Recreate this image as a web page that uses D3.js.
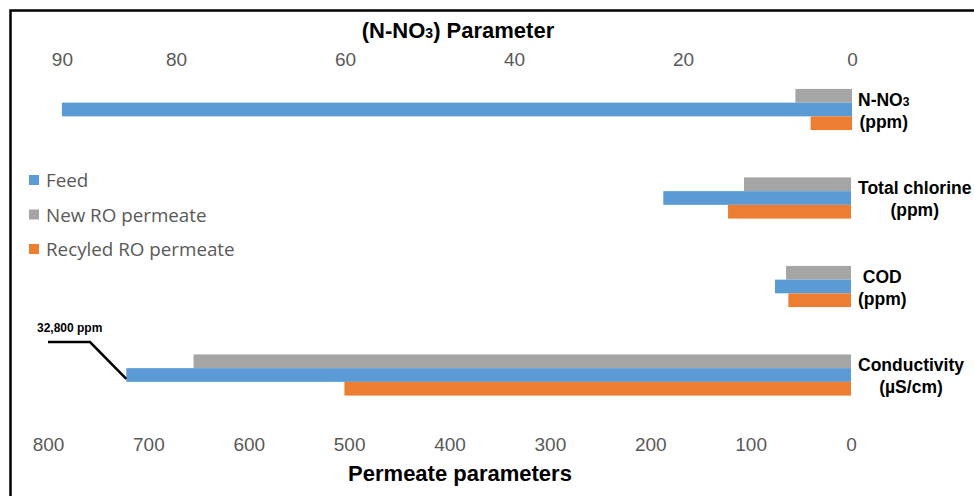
<!DOCTYPE html>
<html>
<head>
<meta charset="utf-8">
<script src="https://cdn.jsdelivr.net/npm/d3@7"></script>
<style>
  html, body { margin: 0; padding: 0; background: #fff; }
  svg { display: block; }
</style>
</head>
<body>
<svg id="chart" width="974" height="496"></svg>
<script>
// ---------------- data ----------------
const categories = ["N-NO3", "Total chlorine", "COD", "Conductivity"];
const categoryLine1 = ["N-NO", "Total chlorine", "COD", "Conductivity"];
const categoryLine2 = ["(ppm)", "(ppm)", "(ppm)", "(\u00B5S/cm)"];
const seriesNames = ["New RO permeate", "Feed", "Recyled RO permeate"]; // top-to-bottom inside each group
const legendOrder = ["Feed", "New RO permeate", "Recyled RO permeate"];
const colors = { "Feed": "#5B9BD5", "New RO permeate": "#A5A5A5", "Recyled RO permeate": "#ED7D31" };
// values: N-NO3 read on the top axis, the others on the bottom axis
const feedValues     = [93.5, 187, 75.7, 722];
const newROValues    = [6.7, 106.6, 64.7, 655];
const recycledValues = [4.9, 122.5, 62.4, 504.7];
const topTickValues  = [93.5, 80, 60, 40, 20, 0];
const topTickLabels  = ["90", "80", "60", "40", "20", "0"];
const bottomTickValues = [800, 700, 600, 500, 400, 300, 200, 100, 0];
const annotationText = "32,800 ppm";

const valuesBySeries = {
  "Feed": feedValues,
  "New RO permeate": newROValues,
  "Recyled RO permeate": recycledValues
};

// ---------------- layout ----------------
const svg = d3.select("#chart");
const W = 974, H = 496;

const xTop = d3.scaleLinear().domain([0, 80]).range([852, 176]);
const xBottom = d3.scaleLinear().domain([0, 800]).range([851, 48]);

const y = d3.scaleBand().domain(categories).range([65.25, 419.25])
  .paddingInner(0.535).paddingOuter(0.2675);
const ySeries = d3.scaleBand().domain(seriesNames).range([0, y.bandwidth()]);

// frame
svg.append("path")
  .attr("d", `M10.5,${H} V10.5 H${W}`)
  .attr("fill", "none").attr("stroke", "#000").attr("stroke-width", 2.5);

// bars
const rows = [];
categories.forEach((c, i) => {
  seriesNames.forEach(s => {
    rows.push({ cat: c, series: s, value: valuesBySeries[s][i], top: i === 0 });
  });
});
svg.append("g").selectAll("rect").data(rows).enter().append("rect")
  .attr("x", d => (d.top ? xTop(d.value) : xBottom(d.value)))
  .attr("width", d => (d.top ? xTop(0) - xTop(d.value) : xBottom(0) - xBottom(d.value)))
  .attr("y", d => y(d.cat) + ySeries(d.series))
  .attr("height", ySeries.bandwidth())
  .attr("fill", d => colors[d.series]);

const tickFont = "'Liberation Sans Narrow','Liberation Sans',Arial,sans-serif";

// top axis (N-NO3)
const topAxis = d3.axisTop(xTop).tickValues(topTickValues)
  .tickFormat((d, i) => topTickLabels[i]).tickSize(0).tickPadding(0);
const gTop = svg.append("g").attr("transform", "translate(0,66)").call(topAxis);
gTop.select(".domain").remove();
gTop.selectAll("text")
  .attr("dy", 0)
  .style("font-family", tickFont)
  .style("font-size", "19px").attr("fill", "#595959");

// bottom axis
const bottomAxis = d3.axisBottom(xBottom).tickValues(bottomTickValues).tickSize(0).tickPadding(0);
const gBot = svg.append("g").attr("transform", "translate(0,451)").call(bottomAxis);
gBot.select(".domain").remove();
gBot.selectAll("text")
  .attr("dy", 0)
  .style("font-family", tickFont)
  .style("font-size", "19px").attr("fill", "#595959");

// titles
const titleTop = svg.append("text")
  .attr("x", 458).attr("y", 38).attr("text-anchor", "middle")
  .style("font-family", "'Liberation Sans',Arial,sans-serif")
  .style("font-weight", "bold").style("font-size", "22px").attr("fill", "#000");
titleTop.append("tspan").text("(N-NO");
titleTop.append("tspan").text("3").style("font-size", "14px");
titleTop.append("tspan").text(") Parameter");

svg.append("text")
  .attr("x", 460).attr("y", 481).attr("text-anchor", "middle")
  .style("font-family", "'Liberation Sans',Arial,sans-serif")
  .style("font-weight", "bold").style("font-size", "22px").attr("fill", "#000")
  .text("Permeate parameters");

// category labels on the right
categories.forEach((c, i) => {
  const cy = y(c) + y.bandwidth() / 2;
  const g = svg.append("g");
  const t1 = g.append("text").attr("y", cy - 4)
    .style("font-family", "'Liberation Sans',Arial,sans-serif")
    .style("font-weight", "bold").style("font-size", "17.5px").attr("fill", "#000");
  t1.append("tspan").text(categoryLine1[i]);
  if (i === 0) t1.append("tspan").text("3").style("font-size", "12px");
  const t2 = g.append("text").attr("y", cy + 18).text(categoryLine2[i])
    .style("font-family", "'Liberation Sans',Arial,sans-serif")
    .style("font-weight", "bold").style("font-size", "17.5px").attr("fill", "#000");
  const w1 = t1.node().getComputedTextLength();
  const w2 = t2.node().getComputedTextLength();
  const mw = Math.max(w1, w2);
  const x0 = 858;
  t1.attr("x", x0 + (mw - w1) / 2);
  t2.attr("x", x0 + (mw - w2) / 2);
});

// legend
const legend = svg.append("g");
legendOrder.forEach((s, i) => {
  const ly = 180 + i * 34.5;
  legend.append("rect").attr("x", 29).attr("y", ly - 5).attr("width", 10).attr("height", 10)
    .attr("fill", colors[s]);
  legend.append("text").attr("x", 46).attr("y", ly + 7).text(s)
    .style("font-family", "'Open Sans',sans-serif").style("font-size", "18.8px")
    .attr("fill", "#595959");
});

// annotation for truncated feed conductivity bar
const condIdx = 3;
const feedBarLeft = xBottom(feedValues[condIdx]);
const feedBarTop = y(categories[condIdx]) + ySeries("Feed");
const feedBarBottom = feedBarTop + ySeries.bandwidth();
svg.append("path")
  .attr("d", `M48,342 H90 L${feedBarLeft},${feedBarBottom - 3}`)
  .attr("fill", "none").attr("stroke", "#000").attr("stroke-width", 2.5);
svg.append("text").attr("x", 37).attr("y", 332).text(annotationText)
  .style("font-family", "'Liberation Sans',Arial,sans-serif")
  .style("font-weight", "bold").style("font-size", "12px").attr("fill", "#000");
</script>
</body>
</html>
